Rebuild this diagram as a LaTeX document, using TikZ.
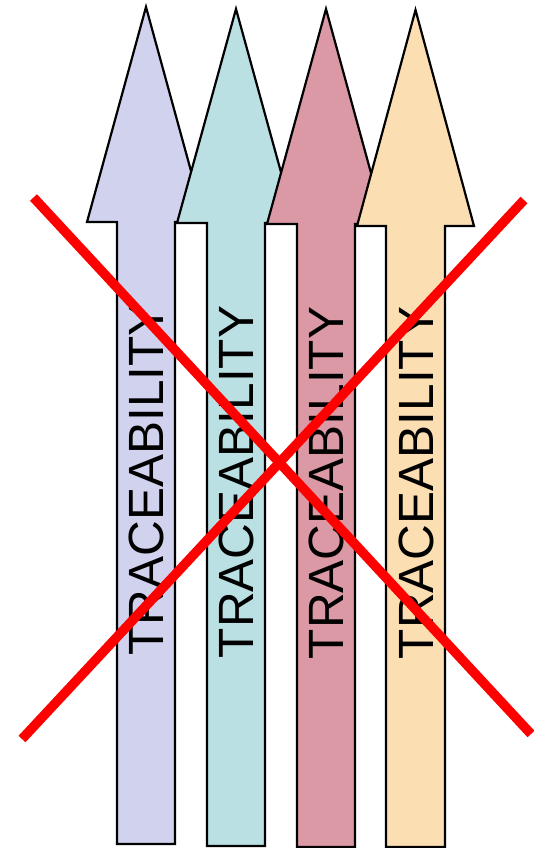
\documentclass[tikz,border=0pt]{standalone}
\usepackage{fontspec}
\setmainfont{Liberation Sans}
\definecolor{lav}{RGB}{209,210,238}
\definecolor{teal}{RGB}{187,224,227}
\definecolor{rose}{RGB}{219,152,165}
\definecolor{peach}{RGB}{251,223,178}
\definecolor{xred}{RGB}{255,0,0}
\tikzset{
  bigarrow/.style={draw=black, line width=2.2pt, line join=miter},
  lbl/.style={rotate=90, inner sep=0pt, font=\fontsize{49.5}{49.5}\selectfont},
  cross/.style={draw=xred, line width=9.5pt, line cap=butt}
}
\begin{document}
\begin{tikzpicture}[x=1pt,y=-1pt]
\useasboundingbox (0,0) rectangle (534,848);
% arrow 1
\path[bigarrow, fill=lav] (146,7) -- (205,222) -- (175,222) -- (175,844) -- (117,844) -- (117,222) -- (87,222) -- cycle;
% arrow 2
\path[bigarrow, fill=teal] (236,9) -- (295,223) -- (265,223) -- (265,846) -- (207,846) -- (207,223) -- (177,223) -- cycle;
% arrow 3
\path[bigarrow, fill=rose] (326,9) -- (385,224) -- (355,224) -- (355,847) -- (297,847) -- (297,224) -- (267,224) -- cycle;
% arrow 4
\path[bigarrow, fill=peach] (415.5,10) -- (474,226) -- (445,226) -- (445,847) -- (386,847) -- (386,226) -- (357,226) -- cycle;
\node[lbl] (t1) at (146.5,479.5) {TRACEABILITY};
\node[lbl] (t2) at (236.5,482) {TRACEABILITY};
\node[lbl] (t3) at (326.5,483) {TRACEABILITY};
\node[lbl] (t4) at (416,483) {TRACEABILITY};
\coordinate (a1) at (33.5,197.5);
\coordinate (a2) at (531,734);
\coordinate (b1) at (524,200);
\coordinate (b2) at (22,739);
\draw[cross] (a1) -- (a2);
\draw[cross] (b1) -- (b2);
\end{tikzpicture}
\end{document}
